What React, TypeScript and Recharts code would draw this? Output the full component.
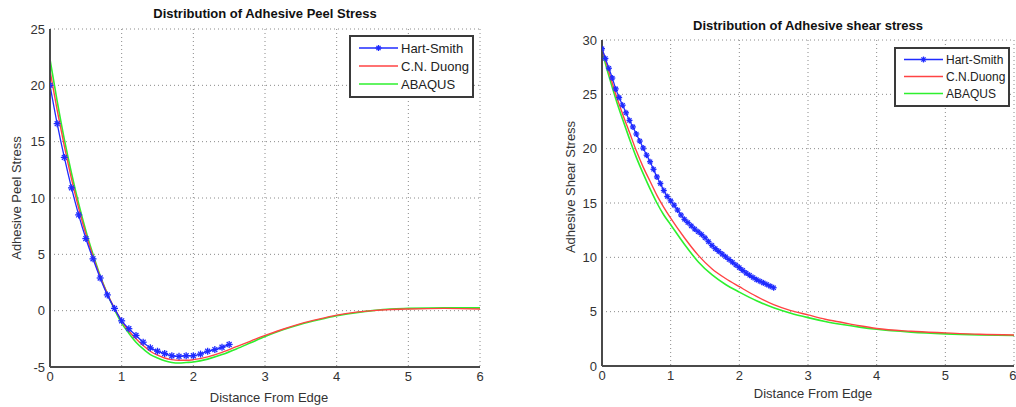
import React from "react";
import { LineChart, Line, XAxis, YAxis, CartesianGrid } from "recharts";

// ---- peel stress (left) ----
const peelHartX = [0, 0.1, 0.2, 0.3, 0.4, 0.5, 0.6, 0.7, 0.8, 0.9, 1.0, 1.1, 1.2, 1.3, 1.4, 1.5, 1.6, 1.7, 1.8, 1.9, 2.0, 2.1, 2.2, 2.3, 2.4, 2.5];
const peelHartY = [20, 16.6, 13.6, 10.9, 8.5, 6.4, 4.6, 2.9, 1.4, 0.2, -0.9, -1.6, -2.2, -2.8, -3.3, -3.6, -3.8, -4.0, -4.05, -4.0, -4.0, -3.85, -3.6, -3.45, -3.25, -3.0];
const peelFemX = [0, 0.1, 0.2, 0.3, 0.4, 0.5, 0.6, 0.7, 0.8, 0.9, 1.0, 1.1, 1.2, 1.3, 1.4, 1.5, 1.6, 1.7, 1.8, 1.9, 2.0, 2.2, 2.4, 2.6, 2.8, 3.0, 3.25, 3.5, 3.75, 4.0, 4.25, 4.5, 4.75, 5.0, 5.5, 6.0];
const peelDuongY = [21.3, 17.8, 14.6, 11.7, 9.1, 6.8, 4.8, 3.0, 1.5, 0.2, -0.9, -1.8, -2.5, -3.1, -3.6, -3.95, -4.2, -4.35, -4.4, -4.4, -4.35, -4.1, -3.7, -3.2, -2.7, -2.2, -1.65, -1.15, -0.75, -0.4, -0.15, 0.0, 0.1, 0.15, 0.2, 0.15];
const peelAbaqusY = [22.3, 18.6, 15.2, 12.2, 9.5, 7.1, 5.0, 3.1, 1.5, 0.1, -1.1, -2.0, -2.8, -3.4, -3.9, -4.2, -4.45, -4.6, -4.65, -4.6, -4.55, -4.3, -3.9, -3.4, -2.85, -2.3, -1.7, -1.2, -0.8, -0.45, -0.2, 0.0, 0.15, 0.2, 0.25, 0.25];

// ---- shear stress (right) ----
const shearHartX = [0, 0.05, 0.1, 0.15, 0.2, 0.25, 0.3, 0.35, 0.4, 0.45, 0.5, 0.55, 0.6, 0.65, 0.7, 0.75, 0.8, 0.85, 0.9, 0.95, 1.0, 1.05, 1.1, 1.15, 1.2, 1.25, 1.3, 1.35, 1.4, 1.45, 1.5, 1.55, 1.6, 1.65, 1.7, 1.75, 1.8, 1.85, 1.9, 1.95, 2.0, 2.05, 2.1, 2.15, 2.2, 2.25, 2.3, 2.35, 2.4, 2.45, 2.5];
const shearHartY = [29.2, 28.3, 27.4, 26.5, 25.5, 24.7, 24.0, 23.3, 22.6, 22.0, 21.35, 20.7, 20.05, 19.4, 18.8, 18.1, 17.4, 16.8, 16.15, 15.6, 15.2, 14.8, 14.35, 13.9, 13.5, 13.2, 12.9, 12.6, 12.35, 12.1, 11.8, 11.45, 11.1, 10.8, 10.55, 10.3, 10.05, 9.8, 9.55, 9.3, 9.05, 8.8, 8.55, 8.35, 8.15, 7.95, 7.8, 7.65, 7.5, 7.35, 7.2];
const shearFemX = [0, 0.1, 0.2, 0.3, 0.4, 0.5, 0.6, 0.7, 0.8, 0.9, 1.0, 1.2, 1.4, 1.6, 1.8, 2.0, 2.25, 2.5, 2.75, 3.0, 3.25, 3.5, 3.75, 4.0, 4.5, 5.0, 5.5, 6.0];
const shearDuongY = [29.2, 27.1, 25.0, 23.2, 21.5, 19.8, 18.3, 17.0, 15.7, 14.6, 13.6, 11.8, 10.2, 8.95, 8.05, 7.3, 6.4, 5.65, 5.1, 4.7, 4.3, 4.0, 3.7, 3.45, 3.2, 3.05, 2.92, 2.85];
const shearAbaqusY = [29.0, 26.7, 24.6, 22.7, 20.9, 19.2, 17.7, 16.3, 15.0, 13.9, 13.0, 11.2, 9.6, 8.4, 7.5, 6.8, 6.0, 5.35, 4.85, 4.45, 4.1, 3.82, 3.58, 3.38, 3.12, 2.96, 2.86, 2.8];

const xTicks = [0, 1, 2, 3, 4, 5, 6];
const peelTicks = [-5, 0, 5, 10, 15, 20, 25];
const shearTicks = [0, 5, 10, 15, 20, 25, 30];

const zip = (xs: number[], ys: number[]) => xs.map((x, i) => ({ x, y: ys[i] }));

const FONT = "'Liberation Sans', Arial, Helvetica, sans-serif";
const BLUE = "#1f2bff";
const RED = "#ff4343";
const GREEN = "#2ef02e";
const AXIS = "#4a4a4a";
const TEXT = "#333";

const StarDot = (props: any) => {
  const { cx, cy, r = 3.5 } = props;
  if (cx == null || cy == null) return null;
  const d = r * 0.7;
  return (
    <g stroke={BLUE} strokeWidth={1.3}>
      <line x1={cx - r} y1={cy} x2={cx + r} y2={cy} />
      <line x1={cx} y1={cy - r} x2={cx} y2={cy + r} />
      <line x1={cx - d} y1={cy - d} x2={cx + d} y2={cy + d} />
      <line x1={cx - d} y1={cy + d} x2={cx + d} y2={cy - d} />
    </g>
  );
};

const yLabel = (text: string, dx: number, dy: number) => ({
  content: (p: any) => {
    const vb = p.viewBox || {};
    const cx = vb.x + dx;
    const cy = vb.y + vb.height / 2 + dy;
    return (
      <text x={cx} y={cy} transform={`rotate(-90 ${cx} ${cy})`} textAnchor="middle" dominantBaseline="central"
        fill={TEXT} fontSize={13} fontFamily={FONT}>{text}</text>
    );
  },
});

const xLabel = (text: string, dx: number, dy: number) => ({
  content: (p: any) => {
    const vb = p.viewBox || {};
    return (
      <text x={vb.x + vb.width / 2 + dx} y={vb.y + dy} textAnchor="middle" dominantBaseline="central"
        fill={TEXT} fontSize={13} fontFamily={FONT}>{text}</text>
    );
  },
});

const LegendBox = ({ labels, rowH, width, fontSize, left, top }: { labels: string[]; rowH: number; width: number; fontSize: number; left: number; top: number }) => (
  <div style={{ position: "absolute", left, top, width, border: "2px solid #3a3a3a", background: "#fff", padding: "2px 0 3px 0", fontFamily: FONT, boxSizing: "border-box" }}>
    {labels.map((lab, i) => {
      const color = [BLUE, RED, GREEN][i];
      return (
        <div key={lab} style={{ display: "flex", alignItems: "center", height: rowH }}>
          <svg width={48} height={rowH} style={{ flex: "none" }}>
            <line x1={8} y1={rowH / 2} x2={47} y2={rowH / 2} stroke={color} strokeWidth={1.5} />
            {i === 0 && <StarDot cx={27.5} cy={rowH / 2} r={3} />}
          </svg>
          <span style={{ fontSize, color: "#222", marginLeft: 2, whiteSpace: "nowrap" }}>{lab}</span>
        </div>
      );
    })}
  </div>
);

const tickStyle = { fontSize: 13, fill: TEXT, fontFamily: FONT };
const titleStyle: React.CSSProperties = { position: "absolute", textAlign: "center", fontFamily: FONT, fontWeight: 700, fontSize: 13, color: "#111", lineHeight: "15px" };

export default function App() {
  return (
    <div style={{ position: "relative", width: 1016, height: 407, background: "#fff", overflow: "hidden" }}>
      <style>{"body{margin:0}"}</style>

      <div style={{ position: "absolute", left: 0, top: 0 }}>
        <LineChart width={490} height={407} margin={{ top: 29, right: 10, bottom: 10, left: 0 }}>
          <CartesianGrid stroke="#8a8a8a" strokeDasharray="1 3" />
          <XAxis dataKey="x" type="number" domain={[0, 6]} ticks={xTicks} height={30} tickSize={3} tickMargin={2}
            tickLine={false} axisLine={{ stroke: AXIS, strokeWidth: 2 }} tick={tickStyle} allowDataOverflow
            label={xLabel("Distance From Edge", 4, 30)} />
          <YAxis type="number" domain={[-5, 25]} ticks={peelTicks} width={50} tickSize={3} tickMargin={2}
            tickLine={false} axisLine={{ stroke: AXIS, strokeWidth: 2 }} tick={tickStyle} allowDataOverflow
            label={yLabel("Adhesive Peel Stress", 16, 0)} />
          <Line data={zip(peelFemX, peelAbaqusY)} dataKey="y" name="ABAQUS" type="monotone" stroke={GREEN} strokeWidth={1.6} dot={false} isAnimationActive={false} />
          <Line data={zip(peelFemX, peelDuongY)} dataKey="y" name="C.N. Duong" type="monotone" stroke={RED} strokeWidth={1.4} dot={false} isAnimationActive={false} />
          <Line data={zip(peelHartX, peelHartY)} dataKey="y" name="Hart-Smith" type="monotone" stroke={BLUE} strokeWidth={1.3} dot={<StarDot r={3.5} />} isAnimationActive={false} />
        </LineChart>
      </div>

      <div style={{ position: "absolute", left: 550, top: 0 }}>
        <LineChart width={466} height={407} margin={{ top: 40, right: 2, bottom: 11, left: 0 }}>
          <CartesianGrid stroke="#8a8a8a" strokeDasharray="1 3" />
          <XAxis dataKey="x" type="number" domain={[0, 6]} ticks={xTicks} height={30} tickSize={3} tickMargin={2}
            tickLine={false} axisLine={{ stroke: AXIS, strokeWidth: 2 }} tick={tickStyle} allowDataOverflow
            label={xLabel("Distance From Edge", 5, 27)} />
          <YAxis type="number" domain={[0, 30]} ticks={shearTicks} width={52} tickSize={3} tickMargin={2}
            tickLine={false} axisLine={{ stroke: AXIS, strokeWidth: 2 }} tick={tickStyle} allowDataOverflow
            label={yLabel("Adhesive Shear Stress", 20, -16)} />
          <Line data={zip(shearFemX, shearAbaqusY)} dataKey="y" name="ABAQUS" type="monotone" stroke={GREEN} strokeWidth={1.6} dot={false} isAnimationActive={false} />
          <Line data={zip(shearFemX, shearDuongY)} dataKey="y" name="C.N.Duong" type="monotone" stroke={RED} strokeWidth={1.4} dot={false} isAnimationActive={false} />
          <Line data={zip(shearHartX, shearHartY)} dataKey="y" name="Hart-Smith" type="monotone" stroke={BLUE} strokeWidth={1.3} dot={<StarDot r={3} />} isAnimationActive={false} />
        </LineChart>
      </div>

      <div style={{ ...titleStyle, left: 50, top: 6, width: 430 }}>Distribution of Adhesive Peel Stress</div>
      <div style={{ ...titleStyle, left: 602, top: 18, width: 412 }}>Distribution of Adhesive shear stress</div>

      <LegendBox left={349} top={35} width={125} rowH={18} fontSize={13} labels={["Hart-Smith", "C.N. Duong", "ABAQUS"]} />
      <LegendBox left={894} top={47} width={116} rowH={17} fontSize={12} labels={["Hart-Smith", "C.N.Duong", "ABAQUS"]} />
    </div>
  );
}
